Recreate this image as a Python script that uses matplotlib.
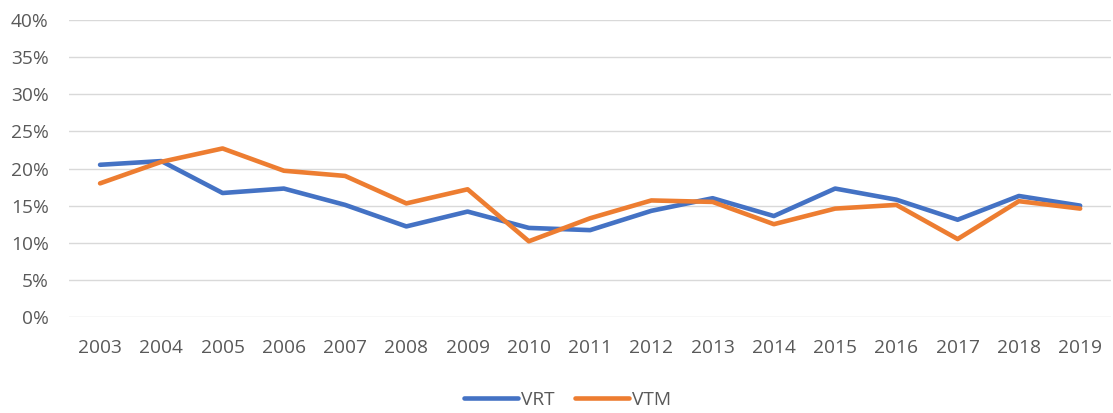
import matplotlib
matplotlib.use("Agg")
import matplotlib.pyplot as plt
from matplotlib.ticker import FuncFormatter

years = [str(y) for y in range(2003, 2020)]
vrt = [20.5, 21.0, 16.7, 17.3, 15.1, 12.2, 14.2, 12.0, 11.7, 14.3, 16.0, 13.6, 17.3, 15.8, 13.1, 16.3, 15.0]
vtm = [18.0, 20.9, 22.7, 19.7, 19.0, 15.3, 17.2, 10.2, 13.3, 15.7, 15.5, 12.5, 14.6, 15.1, 10.5, 15.6, 14.6]
series_names = ["VRT", "VTM"]
colors = ["#4472C4", "#ED7D31"]

plt.rcParams['font.family'] = ['Open Sans', 'DejaVu Sans']
fig = plt.figure(figsize=(11.13, 4.13), dpi=100)
ax = fig.add_axes([0.0624, 0.2324, 0.9356, 0.7192])

x = list(range(len(years)))
for vals, name, c in zip([vrt, vtm], series_names, colors):
    ax.plot(x, vals, color=c, lw=3.3, label=name, solid_joinstyle='round', solid_capstyle='round', zorder=3)

ax.set_xlim(-0.5, len(years) - 0.5)
ax.set_ylim(0, 40)
ax.set_yticks(range(0, 41, 5))
ax.yaxis.set_major_formatter(FuncFormatter(lambda v, p: f"{int(v)}%"))
ax.set_xticks(x)
ax.set_xticklabels(years)
ax.grid(axis='y', color='#D9D9D9', lw=1.0, zorder=0)
ax.set_axisbelow(True)
for s in ax.spines.values():
    s.set_visible(False)
ax.tick_params(axis='both', length=0, colors='#595959', labelsize=13.8)
ax.tick_params(axis='x', pad=15.5)
ax.tick_params(axis='y', pad=15)

leg = fig.legend(loc='center', bbox_to_anchor=(0.510, 0.031), ncol=2, frameon=False,
                 fontsize=13.8, handlelength=2.8, handletextpad=0.15, columnspacing=1.1)
for t in leg.get_texts():
    t.set_color('#595959')

fig.savefig("out.png", dpi=100)
